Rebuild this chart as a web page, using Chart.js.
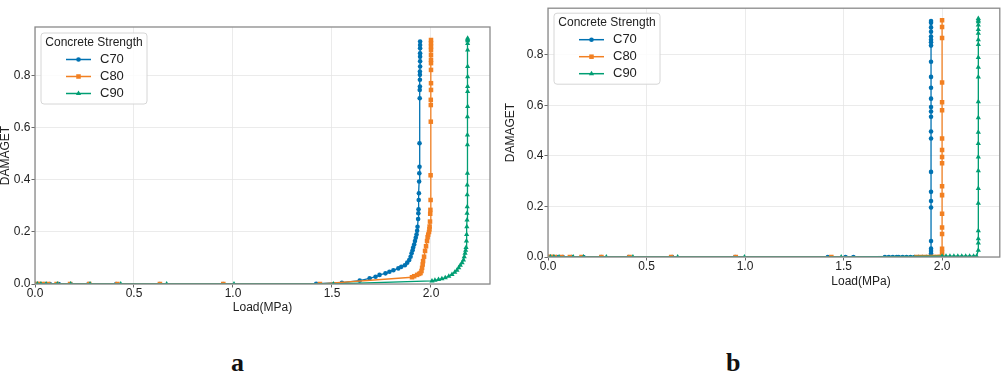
<!DOCTYPE html>
<html>
<head>
<meta charset="utf-8">
<script src="https://cdn.jsdelivr.net/npm/chart.js@4.4.1/dist/chart.umd.min.js"></script>
<style>
  body { margin: 0; background: #fff; width: 1003px; height: 375px; position: relative; overflow: hidden; }
  .panel { position: absolute; top: 0; }
  .panel canvas { display: block; }
  .cap { position: absolute; font: bold 26px "Liberation Serif", "Times New Roman", serif; line-height: 26px; color: #111; }
</style>
</head>
<body>
<div class="panel" style="left:0"><canvas id="chartA" width="500" height="320"></canvas></div>
<div class="panel" style="left:500px"><canvas id="chartB" width="503" height="300"></canvas></div>
<div class="cap" style="left:231px;top:350px">a</div>
<div class="cap" style="left:726px;top:350px">b</div>
<script>
const seriesNames = ['C70', 'C80', 'C90'];
const seriesColors = ['#0072b2', '#f28022', '#009e73'];
const seriesMarkers = ['circle', 'rect', 'triangle'];
const markerRadius = [2.3, 3.2, 3];
const legendTitle = 'Concrete Strength';
const xTitle = 'Load(MPa)';
const yTitle = 'DAMAGET';
const xTicks = [0, 0.5, 1.0, 1.5, 2.0];
const yTicks = [0, 0.2, 0.4, 0.6, 0.8];

// panel a
const c70LoadA = [0.004, 0.012, 0.025, 0.045, 0.075, 0.12, 0.18, 0.27, 0.41, 0.63, 0.95, 1.42,
  1.55, 1.64, 1.69, 1.72, 1.74, 1.77, 1.79, 1.81, 1.835, 1.85,
  1.868, 1.88, 1.89, 1.897, 1.902, 1.907, 1.91, 1.915, 1.919, 1.923,
  1.927, 1.93, 1.932, 1.935, 1.936, 1.937, 1.938, 1.939, 1.94, 1.941,
  1.942, 1.942, 1.943, 1.943, 1.944, 1.944, 1.944, 1.944, 1.945, 1.945,
  1.945, 1.945, 1.945, 1.945, 1.945];
const c70DamageA = [0, 0, 0, 0, 0, 0, 0, 0, 0, 0, 0, 0.001,
  0.005, 0.013, 0.022, 0.028, 0.035, 0.041, 0.047, 0.053, 0.06, 0.066,
  0.072, 0.082, 0.092, 0.105, 0.118, 0.13, 0.14, 0.152, 0.165, 0.178,
  0.19, 0.205, 0.22, 0.25, 0.272, 0.287, 0.323, 0.349, 0.394, 0.426,
  0.451, 0.541, 0.714, 0.746, 0.759, 0.785, 0.804, 0.817, 0.836, 0.856,
  0.874, 0.887, 0.906, 0.919, 0.932];

const c80LoadA = [0.008, 0.02, 0.042, 0.067, 0.109, 0.177, 0.274, 0.416, 0.631, 0.951, 1.439,
  1.904, 1.915, 1.93, 1.94, 1.947, 1.952, 1.955, 1.958, 1.96, 1.965,
  1.97, 1.975, 1.98, 1.983, 1.986, 1.99, 1.992, 1.993, 1.995, 1.996,
  1.997, 1.998, 1.998, 1.999, 1.999, 1.999, 2.0, 2.0, 2.0, 2.0,
  2.0, 2.0, 2.0, 2.0, 2.0, 2.0];
const c80DamageA = [0, 0, 0, 0, 0, 0, 0, 0, 0, 0, 0,
  0.026, 0.03, 0.035, 0.039, 0.042, 0.05, 0.062, 0.075, 0.088, 0.105,
  0.127, 0.145, 0.165, 0.18, 0.19, 0.2, 0.21, 0.221, 0.24, 0.27,
  0.285, 0.323, 0.418, 0.624, 0.688, 0.708, 0.746, 0.772, 0.823, 0.849,
  0.862, 0.881, 0.9, 0.913, 0.926, 0.938];

const c90LoadA = [0.012, 0.03, 0.056, 0.113, 0.18, 0.278, 0.433, 0.665, 1.005, 1.507,
  2.005, 2.02, 2.038, 2.055, 2.072, 2.09, 2.106, 2.12, 2.131, 2.14,
  2.148, 2.157, 2.164, 2.168, 2.172, 2.175, 2.177, 2.179, 2.18, 2.181,
  2.182, 2.182, 2.183, 2.183, 2.183, 2.184, 2.184, 2.184, 2.184, 2.185,
  2.185, 2.185, 2.185, 2.185, 2.185, 2.185, 2.185, 2.185, 2.185];
const c90DamageA = [0, 0, 0, 0, 0, 0, 0, 0, 0, 0,
  0.012, 0.014, 0.017, 0.02, 0.024, 0.03, 0.037, 0.045, 0.053, 0.062,
  0.072, 0.082, 0.092, 0.105, 0.118, 0.13, 0.14, 0.165, 0.19, 0.22,
  0.246, 0.272, 0.297, 0.343, 0.381, 0.426, 0.535, 0.573, 0.643, 0.682,
  0.74, 0.759, 0.797, 0.836, 0.9, 0.925, 0.935, 0.94, 0.945];

// panel b
const c70LoadB = [0.004, 0.012, 0.025, 0.045, 0.075, 0.12, 0.18, 0.27, 0.41, 0.63,
  0.95, 1.42, 1.51, 1.55, 1.71, 1.73, 1.75, 1.77, 1.78, 1.8,
  1.82, 1.84, 1.86, 1.88, 1.9, 1.92, 1.935, 1.944,
  1.944, 1.944, 1.944, 1.944, 1.944, 1.944, 1.944, 1.944, 1.944, 1.944,
  1.944, 1.944, 1.944, 1.944, 1.944, 1.944, 1.944, 1.944, 1.944, 1.944,
  1.944, 1.944, 1.944, 1.944, 1.944];
const c70DamageB = [0, 0, 0, 0, 0, 0, 0, 0, 0, 0,
  0, 0, 0, 0, 0, 0, 0, 0, 0, 0,
  0, 0, 0, 0, 0, 0, 0, 0,
  0.014, 0.024, 0.033, 0.063, 0.196, 0.222, 0.258, 0.337, 0.469, 0.497,
  0.555, 0.576, 0.594, 0.627, 0.67, 0.713, 0.773, 0.837, 0.85, 0.86,
  0.873, 0.892, 0.909, 0.927, 0.934];

const c80LoadB = [0.002, 0.01, 0.02, 0.035, 0.069, 0.111, 0.17, 0.271, 0.414, 0.625,
  0.953, 1.438, 1.87, 1.89, 1.91, 1.93, 1.95, 1.96, 1.975, 1.985,
  1.993, 1.999,
  2.0, 2.0, 2.0, 2.0, 2.0, 2.0, 2.0, 2.0, 2.0, 2.0,
  2.0, 2.0, 2.0, 2.0, 2.0, 2.0, 2.0];
const c80DamageB = [0, 0, 0, 0, 0, 0, 0, 0, 0, 0,
  0, 0, 0, 0, 0, 0, 0, 0, 0, 0,
  0, 0,
  0.017, 0.033, 0.091, 0.117, 0.171, 0.245, 0.28, 0.371, 0.396, 0.424,
  0.469, 0.581, 0.613, 0.691, 0.867, 0.911, 0.937];

const c90LoadB = [0.012, 0.03, 0.056, 0.128, 0.18, 0.296, 0.431, 0.658, 0.997, 1.488,
  2.0, 2.02, 2.04, 2.06, 2.08, 2.1, 2.12, 2.14, 2.16, 2.175,
  2.184, 2.184, 2.184, 2.184, 2.184, 2.184, 2.184, 2.184, 2.184, 2.184,
  2.184, 2.184, 2.184, 2.184, 2.184, 2.184, 2.184, 2.184, 2.184, 2.184,
  2.184, 2.184, 2.184];
const c90DamageB = [0, 0, 0, 0, 0, 0, 0, 0, 0, 0,
  0.003, 0.003, 0.003, 0.003, 0.003, 0.003, 0.003, 0.003, 0.003, 0.003,
  0.027, 0.055, 0.072, 0.104, 0.213, 0.271, 0.341, 0.396, 0.449, 0.494,
  0.551, 0.615, 0.713, 0.751, 0.79, 0.841, 0.86, 0.886, 0.901, 0.918,
  0.931, 0.937, 0.944];

const fontFamily = '"Liberation Sans", Arial, sans-serif';
const textColor = '#222';

function drawMarker(ctx, style, x, y, r) {
  ctx.beginPath();
  if (style === 'circle') {
    ctx.arc(x, y, r, 0, Math.PI * 2);
  } else if (style === 'rect') {
    const s = r * Math.SQRT1_2;
    ctx.rect(x - s, y - s, 2 * s, 2 * s);
  } else {
    ctx.moveTo(x, y - r);
    ctx.lineTo(x + r * 0.866, y + r * 0.5);
    ctx.lineTo(x - r * 0.866, y + r * 0.5);
    ctx.closePath();
  }
  ctx.fill();
}

// axes box drawn over the lines like matplotlib spines
const framePlugin = {
  id: 'frame',
  afterDatasetsDraw(chart) {
    const { ctx, chartArea: a } = chart;
    ctx.save();
    ctx.strokeStyle = '#8a8a8a';
    ctx.lineWidth = 1.3;
    ctx.strokeRect(a.left, a.top, a.right - a.left, a.bottom - a.top);
    ctx.restore();
  }
};

const axisTitles = {
  id: 'axisTitles',
  afterDraw(chart, args, opts) {
    const { ctx, chartArea: a } = chart;
    ctx.save();
    ctx.fillStyle = textColor;
    ctx.font = '12px ' + fontFamily;
    ctx.textAlign = 'center';
    ctx.textBaseline = 'middle';
    const cx = opts.xCenter != null ? opts.xCenter : (a.left + a.right) / 2;
    ctx.fillText(xTitle, cx, opts.xTitleY);
    ctx.translate(opts.yTitleX, (a.top + a.bottom) / 2);
    ctx.rotate(-Math.PI / 2);
    ctx.fillText(yTitle, 0, 0);
    ctx.restore();
  }
};

// legend box with title, top-left inside the axes
const boxLegend = {
  id: 'boxLegend',
  afterDraw(chart, args, opts) {
    const { ctx, chartArea } = chart;
    const bx = chartArea.left + opts.dx, by = chartArea.top + opts.dy;
    const w = 106, h = 71, r = 3;
    ctx.save();
    ctx.beginPath();
    ctx.moveTo(bx + r, by);
    ctx.arcTo(bx + w, by, bx + w, by + h, r);
    ctx.arcTo(bx + w, by + h, bx, by + h, r);
    ctx.arcTo(bx, by + h, bx, by, r);
    ctx.arcTo(bx, by, bx + w, by, r);
    ctx.closePath();
    ctx.fillStyle = 'rgba(255,255,255,0.85)';
    ctx.fill();
    ctx.strokeStyle = '#d6d6d6';
    ctx.lineWidth = 1;
    ctx.stroke();

    ctx.fillStyle = textColor;
    ctx.font = '12px ' + fontFamily;
    ctx.textBaseline = 'middle';
    ctx.textAlign = 'center';
    ctx.fillText(legendTitle, bx + w / 2, by + 9.5);
    ctx.textAlign = 'left';
    chart.data.datasets.forEach((ds, i) => {
      const yy = by + 26.5 + i * 17;
      ctx.strokeStyle = ds.borderColor;
      ctx.lineWidth = 1.5;
      ctx.beginPath();
      ctx.moveTo(bx + 25, yy);
      ctx.lineTo(bx + 50, yy);
      ctx.stroke();
      ctx.fillStyle = ds.borderColor;
      drawMarker(ctx, seriesMarkers[i], bx + 37.5, yy, markerRadius[i]);
      ctx.fillStyle = textColor;
      ctx.font = '13px ' + fontFamily;
      ctx.fillText(ds.label, bx + 59, yy);
    });
    ctx.restore();
  }
};

function makeChart(id, loads, damages, cfg) {
  const datasets = seriesNames.map((name, i) => ({
    label: name,
    data: loads[i].map((x, j) => ({ x: x, y: damages[i][j] })),
    showLine: true,
    borderColor: seriesColors[i],
    backgroundColor: seriesColors[i],
    borderWidth: 1.3,
    pointStyle: seriesMarkers[i],
    pointRadius: markerRadius[i],
    pointBorderWidth: 0,
    pointHoverRadius: markerRadius[i],
    order: 3 - i,
    clip: 0
  }));

  const tickFont = { family: fontFamily, size: 12 };
  return new Chart(document.getElementById(id), {
    type: 'scatter',
    data: { datasets: datasets },
    plugins: [framePlugin, axisTitles, boxLegend],
    options: {
      responsive: false,
      animation: false,
      devicePixelRatio: 1,
      events: [],
      layout: { padding: cfg.padding },
      plugins: {
        legend: { display: false },
        tooltip: { enabled: false },
        axisTitles: cfg.titles,
        boxLegend: cfg.legend
      },
      scales: {
        x: {
          type: 'linear',
          min: 0,
          max: cfg.xMax,
          afterBuildTicks: s => { s.ticks = xTicks.map(v => ({ value: v })); },
          afterFit: s => { s.height = cfg.xAxisHeight; },
          grid: { color: '#e6e6e6', lineWidth: 0.8, tickColor: '#444', tickLength: 3.5 },
          border: { display: false },
          ticks: { font: tickFont, color: textColor, padding: -1.5, maxRotation: 0, callback: v => v.toFixed(1) }
        },
        y: {
          type: 'linear',
          min: 0,
          max: cfg.yMax,
          afterBuildTicks: s => { s.ticks = yTicks.map(v => ({ value: v })); },
          afterFit: s => { s.width = cfg.yAxisWidth; },
          grid: { color: '#e6e6e6', lineWidth: 0.8, tickColor: '#444', tickLength: 3.5 },
          border: { display: false },
          ticks: { font: tickFont, color: textColor, padding: 1, callback: v => v.toFixed(1) }
        }
      }
    }
  });
}

makeChart('chartA',
  [c70LoadA, c80LoadA, c90LoadA],
  [c70DamageA, c80DamageA, c90DamageA],
  {
    padding: { top: 27, right: 10, left: 0, bottom: 0 },
    xMax: 2.298, yMax: 0.988,
    xAxisHeight: 36, yAxisWidth: 35,
    titles: { xTitleY: 308, yTitleX: 6 },
    legend: { dx: 6, dy: 6 }
  });

makeChart('chartB',
  [c70LoadB, c80LoadB, c90LoadB],
  [c70DamageB, c80DamageB, c90DamageB],
  {
    padding: { top: 1, right: 1, left: 0, bottom: 0 },
    xMax: 2.293, yMax: 0.985,
    xAxisHeight: 43, yAxisWidth: 48,
    titles: { xTitleY: 282, yTitleX: 11, xCenter: 361 },
    legend: { dx: 6, dy: 5 }
  });
</script>
</body>
</html>
